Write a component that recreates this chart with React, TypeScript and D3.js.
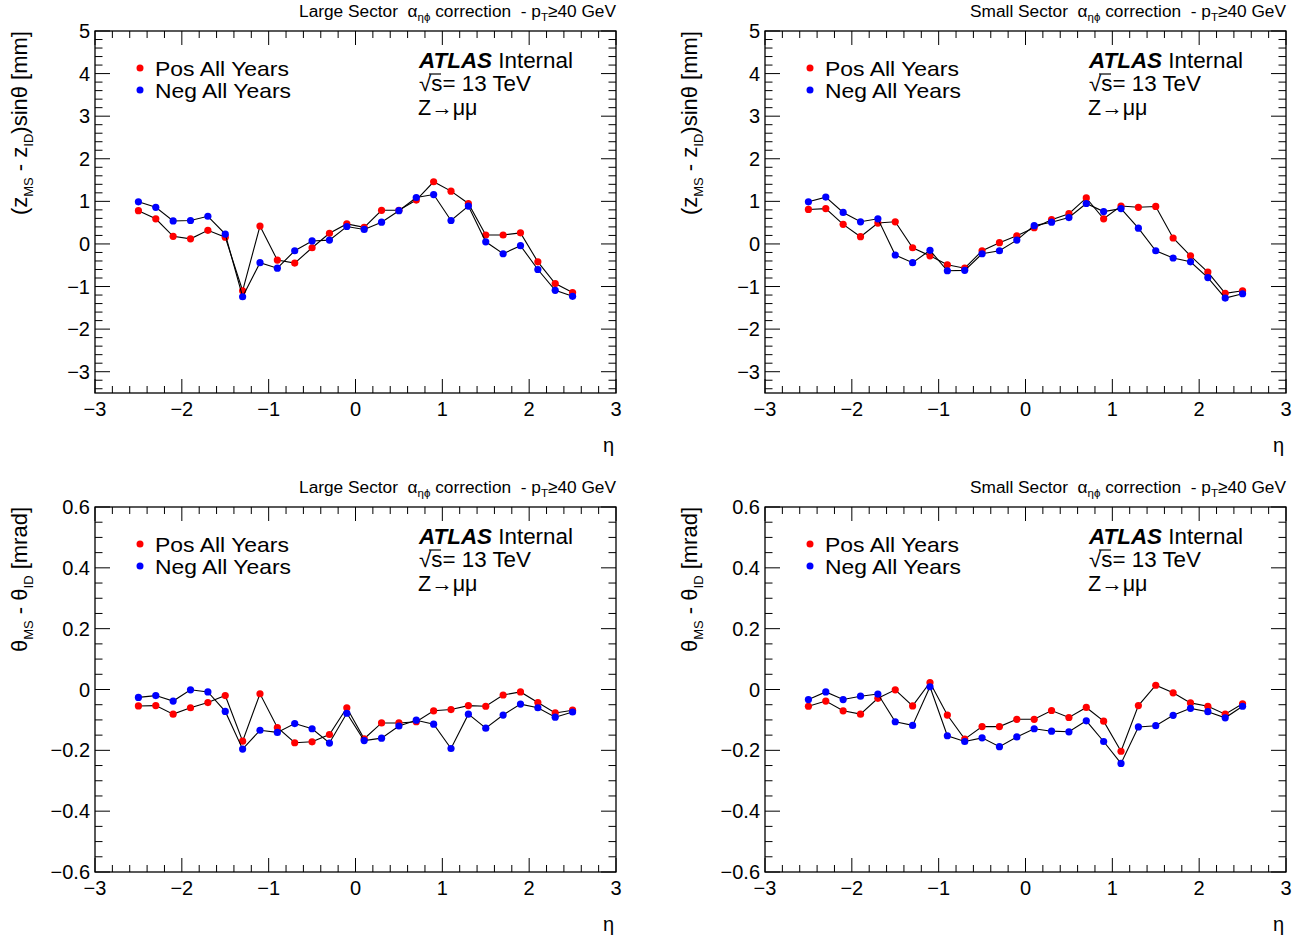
import React from "react";
import * as d3 from "d3";

const eta = [-2.5, -2.3, -2.1, -1.9, -1.7, -1.5, -1.3, -1.1, -0.9, -0.7, -0.5, -0.3, -0.1, 0.1, 0.3, 0.5, 0.7, 0.9, 1.1, 1.3, 1.5, 1.7, 1.9, 2.1, 2.3, 2.5];

const lsZPos = [0.78, 0.59, 0.18, 0.12, 0.32, 0.16, -1.10, 0.42, -0.38, -0.45, -0.09, 0.25, 0.47, 0.39, 0.79, 0.79, 1.03, 1.46, 1.24, 0.95, 0.21, 0.21, 0.26, -0.42, -0.93, -1.14];
const lsZNeg = [0.99, 0.86, 0.54, 0.55, 0.65, 0.23, -1.24, -0.44, -0.57, -0.16, 0.07, 0.09, 0.41, 0.34, 0.51, 0.78, 1.09, 1.16, 0.55, 0.89, 0.05, -0.23, -0.04, -0.60, -1.09, -1.23];
const ssZPos = [0.81, 0.83, 0.46, 0.17, 0.49, 0.52, -0.09, -0.28, -0.49, -0.57, -0.16, 0.03, 0.19, 0.38, 0.57, 0.71, 1.08, 0.59, 0.89, 0.86, 0.88, 0.14, -0.28, -0.66, -1.16, -1.10];
const ssZNeg = [0.99, 1.10, 0.74, 0.52, 0.59, -0.26, -0.44, -0.15, -0.63, -0.62, -0.23, -0.16, 0.09, 0.43, 0.51, 0.62, 0.95, 0.76, 0.83, 0.37, -0.16, -0.33, -0.42, -0.79, -1.27, -1.17];

const lsTPos = [-0.054, -0.053, -0.081, -0.060, -0.043, -0.020, -0.170, -0.014, -0.125, -0.175, -0.172, -0.148, -0.060, -0.162, -0.110, -0.110, -0.106, -0.070, -0.066, -0.053, -0.055, -0.018, -0.008, -0.043, -0.077, -0.068];
const lsTNeg = [-0.026, -0.020, -0.038, -0.001, -0.008, -0.072, -0.196, -0.134, -0.141, -0.112, -0.129, -0.176, -0.078, -0.168, -0.160, -0.120, -0.101, -0.114, -0.194, -0.081, -0.127, -0.084, -0.048, -0.060, -0.091, -0.074];
const ssTPos = [-0.055, -0.038, -0.070, -0.081, -0.029, -0.001, -0.054, 0.023, -0.084, -0.163, -0.122, -0.122, -0.098, -0.098, -0.069, -0.092, -0.059, -0.104, -0.203, -0.053, 0.014, -0.011, -0.044, -0.055, -0.081, -0.047];
const ssTNeg = [-0.033, -0.008, -0.033, -0.022, -0.015, -0.106, -0.118, 0.009, -0.152, -0.171, -0.159, -0.188, -0.156, -0.129, -0.137, -0.139, -0.103, -0.171, -0.243, -0.123, -0.119, -0.085, -0.062, -0.073, -0.093, -0.055];

const xTicks = [-3, -2, -1, 0, 1, 2, 3];
const zTicks = [5, 4, 3, 2, 1, 0, -1, -2, -3];
const tTicks = [0.6, 0.4, 0.2, 0, -0.2, -0.4, -0.6];

const FONT = "'Liberation Sans', Arial, Helvetica, sans-serif";
const fmt = (v: number) => (v < 0 ? "\u2212" + String(Math.abs(v)) : String(v));
const NB = "\u00a0";

type PanelProps = {
  left: number; top: number; width: number; height: number;
  yDomain: [number, number]; yTicks: number[]; yMinorStep: number;
  pos: number[]; neg: number[]; sector: string; yLabel: "z" | "t";
};

function Panel(p: PanelProps) {
  const x = d3.scaleLinear().domain([-3, 3]).range([p.left, p.left + p.width]);
  const y = d3.scaleLinear().domain(p.yDomain).range([p.top + p.height, p.top]);
  const right = p.left + p.width;
  const bottom = p.top + p.height;
  const xMinor: number[] = [];
  for (let i = -30; i <= 30; i += 2) xMinor.push(i / 10);
  const yMinor: number[] = [];
  const n0 = Math.ceil(p.yDomain[0] / p.yMinorStep - 1e-6);
  const n1 = Math.floor(p.yDomain[1] / p.yMinorStep + 1e-6);
  for (let i = n0; i <= n1; i++) yMinor.push(i * p.yMinorStep);
  const line = d3.line<number>().x((_, i) => x(eta[i])).y((d) => y(d));
  const XMAJ = 14, XMIN = 7, YMAJ = 15, YMIN = 7.5;
  const sub = { fontSize: 13 };
  const ax = p.left + 324;
  return (
    <g fontFamily={FONT}>
      <rect x={p.left} y={p.top} width={p.width} height={p.height} fill="none" stroke="#000" strokeWidth={1.3} />
      {xMinor.map((v, i) => {
        const isMaj = Math.abs(v - Math.round(v)) < 1e-6;
        const L = isMaj ? XMAJ : XMIN;
        return (
          <g key={"xm" + i}>
            <line x1={x(v)} x2={x(v)} y1={bottom} y2={bottom - L} stroke="#000" strokeWidth={1} />
            <line x1={x(v)} x2={x(v)} y1={p.top} y2={p.top + L} stroke="#000" strokeWidth={1} />
          </g>
        );
      })}
      {yMinor.map((v, i) => {
        const isMaj = p.yTicks.some((t) => Math.abs(t - v) < 1e-6);
        const L = isMaj ? YMAJ : YMIN;
        return (
          <g key={"ym" + i}>
            <line x1={p.left} x2={p.left + L} y1={y(v)} y2={y(v)} stroke="#000" strokeWidth={1} />
            <line x1={right} x2={right - L} y1={y(v)} y2={y(v)} stroke="#000" strokeWidth={1} />
          </g>
        );
      })}
      {xTicks.map((v) => (
        <text key={"xl" + v} x={x(v)} y={bottom + 23} fontSize={20} textAnchor="middle">{fmt(v)}</text>
      ))}
      {p.yTicks.map((v) => (
        <text key={"yl" + v} x={p.left - 5} y={y(v) + 7} fontSize={20} textAnchor="end">{fmt(v)}</text>
      ))}
      <text x={right - 2} y={bottom + 59} fontSize={20} textAnchor="end">η</text>
      <text transform={`translate(${p.left - 68},${p.top}) rotate(-90)`} fontSize={22} textAnchor="end">
        {p.yLabel === "z" ? (
          <>
            <tspan>(z</tspan><tspan dy={6} style={sub}>MS</tspan><tspan dy={-6}>{NB}- z</tspan><tspan dy={6} style={sub}>ID</tspan><tspan dy={-6}>)sinθ [mm]</tspan>
          </>
        ) : (
          <>
            <tspan>θ</tspan><tspan dy={6} style={sub}>MS</tspan><tspan dy={-6}>{NB}- θ</tspan><tspan dy={6} style={sub}>ID</tspan><tspan dy={-6}>{NB}[mrad]</tspan>
          </>
        )}
      </text>
      <text x={right} y={p.top - 14} fontSize={17.3} textAnchor="end">
        <tspan>{p.sector + " Sector" + NB + NB + "α"}</tspan><tspan dy={4} fontSize={11.5}>ηϕ</tspan><tspan dy={-4}>{NB + "correction" + NB + NB + "- p"}</tspan><tspan dy={4} fontSize={11.5}>T</tspan><tspan dy={-4}>≥40 GeV</tspan>
      </text>
      <circle cx={p.left + 45} cy={p.top + 37} r={3.5} fill="#ff0000" />
      <text x={p.left + 60} y={p.top + 44.5} fontSize={21} textLength={134} lengthAdjust="spacingAndGlyphs">Pos All Years</text>
      <circle cx={p.left + 45} cy={p.top + 59} r={3.5} fill="#0000ff" />
      <text x={p.left + 60} y={p.top + 66.5} fontSize={21} textLength={136} lengthAdjust="spacingAndGlyphs">Neg All Years</text>
      <text x={ax} y={p.top + 37} fontSize={21.5} textLength={154} lengthAdjust="spacingAndGlyphs">
        <tspan fontWeight="bold" fontStyle="italic">ATLAS</tspan><tspan>{NB}Internal</tspan>
      </text>
      <text x={ax} y={p.top + 60} fontSize={21.5} textLength={112} lengthAdjust="spacingAndGlyphs">√s= 13 TeV</text>
      <line x1={ax + 10} x2={ax + 22} y1={p.top + 43} y2={p.top + 43} stroke="#000" strokeWidth={1.2} />
      <text x={ax - 1} y={p.top + 84} fontSize={21.5}>Z→μμ</text>
      <path d={line(p.pos) || ""} fill="none" stroke="#000" strokeWidth={1.1} />
      {p.pos.map((v, i) => (
        <circle key={"p" + i} cx={x(eta[i])} cy={y(v)} r={3.6} fill="#ff0000" />
      ))}
      <path d={line(p.neg) || ""} fill="none" stroke="#000" strokeWidth={1.1} />
      {p.neg.map((v, i) => (
        <circle key={"n" + i} cx={x(eta[i])} cy={y(v)} r={3.6} fill="#0000ff" />
      ))}
    </g>
  );
}

export default function App() {
  const W = 521;
  return (
    <svg width={1311} height={940} style={{ position: "absolute", left: 0, top: 0, background: "#fff" }}>
      <rect x={0} y={0} width={1311} height={940} fill="#fff" />
      <Panel left={95} top={31} width={W} height={362} yDomain={[-3.5, 5]} yTicks={zTicks} yMinorStep={0.2} pos={lsZPos} neg={lsZNeg} sector="Large" yLabel="z" />
      <Panel left={765} top={31} width={W} height={362} yDomain={[-3.5, 5]} yTicks={zTicks} yMinorStep={0.2} pos={ssZPos} neg={ssZNeg} sector="Small" yLabel="z" />
      <Panel left={95} top={507} width={W} height={365} yDomain={[-0.6, 0.6]} yTicks={tTicks} yMinorStep={0.05} pos={lsTPos} neg={lsTNeg} sector="Large" yLabel="t" />
      <Panel left={765} top={507} width={W} height={365} yDomain={[-0.6, 0.6]} yTicks={tTicks} yMinorStep={0.05} pos={ssTPos} neg={ssTNeg} sector="Small" yLabel="t" />
    </svg>
  );
}
